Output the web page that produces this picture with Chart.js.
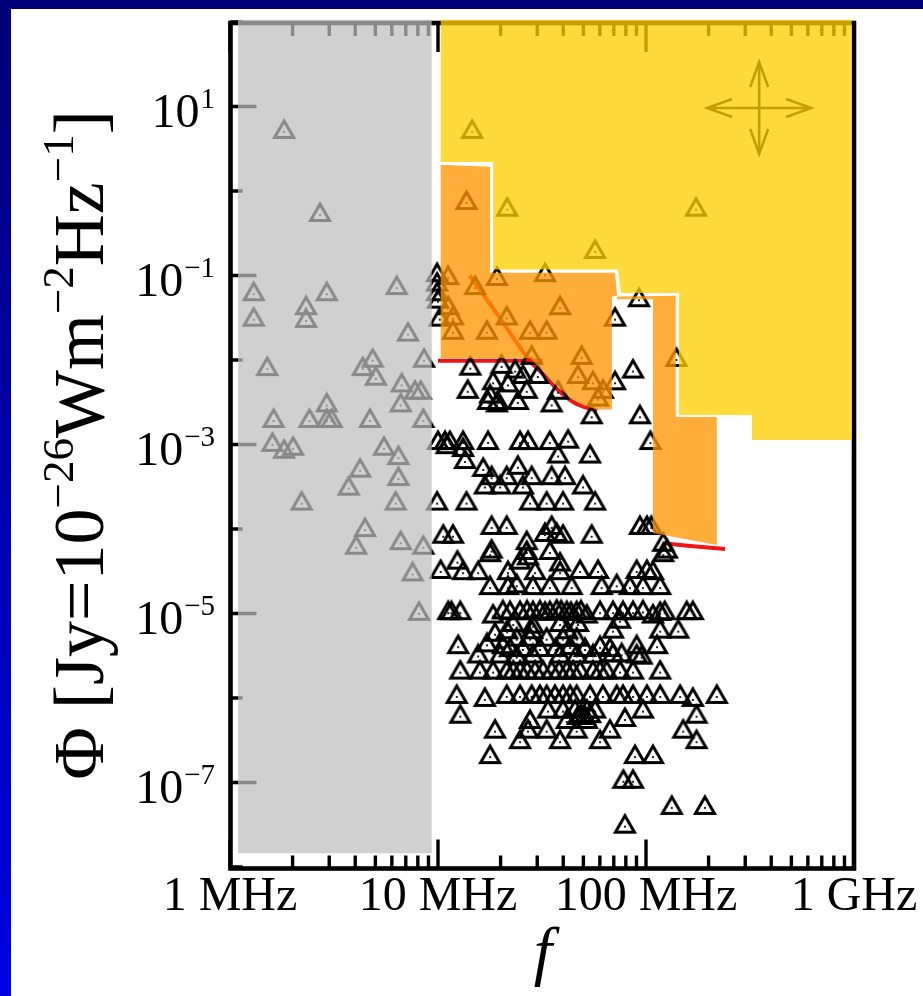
<!DOCTYPE html>
<html>
<head>
<meta charset="utf-8">
<script src="https://cdn.jsdelivr.net/npm/chart.js@4.4.0/dist/chart.umd.min.js"></script>
<style>
html, body { margin: 0; padding: 0; background: #fff; }
canvas { display: block; }
</style>
</head>
<body>
<canvas id="mycanvas" width="923" height="996"></canvas>
<script>
// events below 10 MHz (behind the ionosphere band), [MHz, Jy]
var ionoEvents = [
	[1.82,5.0],[2.71,0.52],[1.30,0.060],[2.92,0.060],[6.33,0.071],[2.32,0.041],
	[1.30,0.030],[2.32,0.029],[7.17,0.020],[1.51,0.0078],[4.35,0.0078],[4.85,0.0098],
	[5.03,0.0060],[8.57,0.0098],[6.69,0.0050],[7.75,0.0041],[8.26,0.0041],[6.62,0.0029],
	[2.92,0.0029],[1.62,0.0019],[2.41,0.0019],[2.92,0.0019],[3.08,0.0019],[4.71,0.0019],
	[8.50,0.0019],[1.60,0.00099],[1.82,0.00082],[2.01,0.00089],[5.50,0.00089],[6.45,0.00069],
	[4.22,0.00049],[6.45,0.00039],[3.72,0.00030],[2.21,0.00020],[6.26,0.00020],[4.46,9.7e-5],
	[4.04,6.0e-5],[6.62,6.8e-5],[8.50,6.0e-5],[7.55,2.9e-5],[8.10,9.9e-6]
];

// events above 1e-3 Jy
var upperEvents = [
	[14.6,5.0],[13.7,0.72],[21.5,0.60],[56.9,0.19],[174,0.60],
	[9.9,0.101],[9.9,0.078],[11.2,0.093],[15.1,0.071],[19.2,0.091],[32.7,0.101],
	[9.9,0.060],[10.0,0.049],[11.2,0.041],[11.8,0.031],[10.2,0.030],
	[11.8,0.021],[17.2,0.021],[21.4,0.031],[27.7,0.021],[33.3,0.021],
	[38.6,0.041],[71.0,0.030],[92.5,0.051],[28.2,0.0106],[49.1,0.0106],
	[140,0.0100],[47.1,0.0063],[55.6,0.0053],[62.1,0.0042],[58.8,0.0034],
	[14.3,0.0079],[20.2,0.0083],[23.5,0.0073],[25.6,0.0063],[30.2,0.0063],
	[18.4,0.0053],[21.7,0.0050],[13.9,0.0042],[26.7,0.0042],[17.8,0.0037],
	[19.4,0.0031],[24.2,0.0031],[17.4,0.0031],[35.2,0.0029],[37.8,0.0041],
	[71.0,0.0053],[86.6,0.0073],[54.8,0.0021],[93.5,0.0021],[19.2,0.0029],
	[10.0,0.00104],[10.8,0.00104],[11.4,0.00104],[13.2,0.00104],[17.4,0.00104],
	[24.8,0.00104],[27.1,0.00104],[34.5,0.00104],[42.2,0.00108],[105,0.00104]
];

// events below 1e-3 Jy
var lowerEvents = [
	[13.2,0.00086],[11.0,0.00093],[37.8,0.00072],[53.8,0.00072],[13.5,0.00062],[16.5,0.00050],
	[24.2,0.00053],[18.1,0.00040],[21.4,0.00040],[28.2,0.00040],[35.2,0.00040],
	[40.8,0.00040],[49.8,0.00031],[16.8,0.00031],[19.9,0.00031],[25.6,0.00031],
	[9.9,0.00020],[13.7,0.00020],[27.7,0.00020],[33.3,0.00020],[39.9,0.00020],[56.9,0.00020],
	[18.1,1.03e-4],[21.4,1.03e-4],[35.2,1.03e-4],[37.2,8.5e-5],[32.7,8.5e-5],
	[26.7,6.8e-5],[54.8,8.1e-5],[10.6,8.1e-5],[11.8,8.1e-5],[39.9,8.1e-5],
	[93.5,1.03e-4],[101,1.03e-4],[106,1.03e-4],[121,6.5e-5],[126,5.4e-5],
	[18.1,5.4e-5],[26.7,5.2e-5],[34.5,5.2e-5],
	[12.4,4.0e-5],[17.8,4.9e-5],[24.8,4.0e-5],[27.1,4.5e-5],[38.6,3.8e-5],[121,4.9e-5],
	[10.3,3.1e-5],[13.2,3.0e-5],[15.6,3.0e-5],[21.7,3.0e-5],[29.3,3.0e-5],[38.6,3.0e-5],
	[48.2,3.1e-5],[58.8,3.1e-5],[90.2,3.1e-5],[101,3.1e-5],[108,3.0e-5],
	[17.8,2.0e-5],[21.7,2.0e-5],[23.9,2.1e-5],[28.6,2.0e-5],[34.5,2.0e-5],[43.9,2.0e-5],
	[61.2,2.0e-5],[72.3,2.1e-5],[83.7,2.0e-5],[96.7,2.0e-5],[117,2.0e-5],
	[11.2,1.01e-5],[11.6,1.01e-5],[12.8,1.01e-5],[18.4,9.2e-6],[20.5,1.03e-5],[22.2,1.01e-5],
	[24.8,1.01e-5],[26.8,1.03e-5],[28.6,1.01e-5],[30.9,1.03e-5],[32.7,9.9e-6],[34.5,1.01e-5],
	[37.2,1.05e-5],[39.1,1.03e-5],[41.6,1.01e-5],[43.6,9.9e-6],[46.4,1.01e-5],[48.7,1.03e-5],
	[51.9,9.2e-6],[60.1,1.01e-5],[69.4,1.01e-5],[77.5,1.01e-5],[86.6,1.01e-5],[96.7,1.03e-5],
	[108,9.2e-6],[117,9.9e-6],[123,1.01e-5],[157,1.01e-5],[168,1.01e-5],
	[23.0,7.3e-6],[28.6,7.0e-6],[38.6,7.3e-6],[47.1,7.3e-6],[69.4,6.1e-6],[117,6.1e-6],
	[143,6.1e-6],[75.0,8.0e-6],[21.5,6.0e-6],[28.3,6.0e-6],[41.8,6.0e-6],
	[18.8,5.6e-6],[23.9,4.9e-6],[27.7,4.9e-6],[33.3,4.9e-6],[39.9,4.9e-6],[46.4,4.9e-6],
	[12.5,4.0e-6],[17.2,4.2e-6],[20.5,4.0e-6],[90.2,4.0e-6],[113,4.0e-6],
	[22.2,3.7e-6],[25.6,3.7e-6],[30.9,3.7e-6],[36.8,3.7e-6],[43.2,3.9e-6],[50.9,3.7e-6],
	[60.1,3.9e-6],[67.1,3.7e-6],
	[15.6,3.1e-6],[19.9,3.1e-6],[23.9,3.0e-6],[28.6,3.1e-6],[38.6,3.1e-6],[46.4,3.1e-6],
	[55.6,3.1e-6],[69.4,3.2e-6],[76.4,3.2e-6],[90.2,3.1e-6],[95.3,3.0e-6],
	[12.8,2.0e-6],[15.9,2.0e-6],[18.4,2.0e-6],[21.4,2.0e-6],[23.0,2.0e-6],[24.8,2.0e-6],
	[26.8,2.0e-6],[29.3,2.0e-6],[32.0,2.0e-6],[35.2,2.0e-6],[38.2,2.0e-6],[41.6,2.0e-6],
	[44.6,2.0e-6],[48.2,2.0e-6],[55.6,2.0e-6],[60.1,2.0e-6],[64.7,2.0e-6],[75.0,2.0e-6],
	[86.6,2.0e-6],[117,2.0e-6],
	[12.3,1.03e-6],[16.8,9.5e-7],[21.4,1.03e-6],[24.8,1.03e-6],[28.2,1.03e-6],[30.9,1.03e-6],
	[33.3,1.03e-6],[36.5,1.03e-6],[39.9,1.03e-6],[43.2,1.03e-6],[46.4,1.03e-6],[53.8,1.03e-6],
	[62.1,1.03e-6],[72.3,1.03e-6],[77.5,1.03e-6],[86.6,1.03e-6],[101,1.03e-6],[117,1.03e-6],
	[146,1.03e-6],[168,9.5e-7],[219,1.03e-6],
	[12.8,6.0e-7],[33.8,6.9e-7],[39.9,6.9e-7],[45.6,6.9e-7],[51.9,6.9e-7],[56.9,6.9e-7],
	[96.7,6.9e-7],[175,6.0e-7],[27.7,5.2e-7],[41.6,5.2e-7],[51.9,5.2e-7],[79.2,5.5e-7],
	[48.7,6.1e-7],[50.9,5.8e-7],[53.8,6.1e-7],[47.1,5.8e-7],
	[18.8,4.0e-7],[27.1,4.0e-7],[33.3,4.0e-7],[46.4,4.0e-7],[67.1,4.0e-7],[151,4.0e-7],
	[24.8,3.0e-7],[38.6,3.0e-7],[60.1,3.0e-7],[175,3.0e-7],
	[17.8,2.0e-7],[88.5,2.0e-7],[108,2.0e-7],[77.8,1.02e-7],[86.6,1.02e-7],
	[133,5.0e-8],[192,5.0e-8],[79.2,3.0e-8]
];

// sensitivity curves (red)
var limitLineA = [[10,0.0098],[32,0.0098]];
var limitLineB = [[14.2,0.1],[20,0.0306],[27.7,0.0097],[32,0.0068],[37.3,0.00454],[44.6,0.00319],[58.1,0.00249]];
var limitLineC = [[121,6.8e-5],[163,6.3e-5],[240,5.8e-5]];

// shaded zones, polygon corners in [MHz, Jy]
var ionoBand = [[1.093,106],[9.33,106],[9.33,1.45e-8],[1.093,1.45e-8]];
var yellowZone = [[10.3,106],[975,106],[975,0.00113],[323,0.00113],[323,0.00223],[144,0.00223],
	[144,0.062],[75.8,0.062],[73.3,0.118],[18.4,0.118],[18.4,2.2],[10.3,2.2]];
var orangeZoneA = [[10.3,2.05],[17.8,1.94],[17.8,0.108],[71.0,0.108],[72.6,0.058],[68.6,0.056],
	[68.6,0.0026],[58.1,0.0026],[50,0.0029],[44.6,0.0034],[37.3,0.0049],[32,0.0074],[27.7,0.0105],[10.3,0.0105]];
var orangeZoneB = [[72.6,0.0565],[139,0.0575],[139,0.00211],[219,0.00211],[219,6.47e-5],[108,8.97e-5],
	[108,0.0525],[72.6,0.0525]];

var xTickValues = [1, 10, 100, 1000];
var xTickLabels = ['1 MHz', '10 MHz', '100 MHz', '1 GHz'];
var yLabelExps = [1, -1, -3, -5, -7];
var arrowCenter = [350, 9.6];

function toPts(list) {
	return list.map(function(p){ return {x: p[0], y: p[1]}; });
}

// triangle marker with a dot in the middle
function makeMarker() {
	var c = document.createElement('canvas');
	c.width = 28; c.height = 28;
	var g = c.getContext('2d');
	var cx = 14, cy = 14, w = 19, h = 16.5;
	g.strokeStyle = '#000';
	g.lineWidth = 3.0;
	g.beginPath();
	g.moveTo(cx, cy - h * 2 / 3);
	g.lineTo(cx + w / 2, cy + h / 3);
	g.lineTo(cx - w / 2, cy + h / 3);
	g.closePath();
	g.stroke();
	g.fillStyle = '#222';
	g.fillRect(cx - 1, cy - 1, 2, 2);
	return c;
}
var marker = makeMarker();

var SERIF = '"Liberation Serif", "Times New Roman", serif';

var decor = {
	id: 'decor',
	beforeDraw: function(chart) {
		var ctx = chart.ctx, w = chart.width, h = chart.height;
		ctx.save();
		ctx.fillStyle = '#fff';
		ctx.fillRect(0, 0, w, h);
		var grad = ctx.createLinearGradient(0, 0, 0, h);
		grad.addColorStop(0, '#000078');
		grad.addColorStop(1, '#0000e4');
		ctx.fillStyle = grad;
		ctx.fillRect(0, 0, 11, h);
		ctx.fillStyle = '#00007c';
		ctx.fillRect(0, 0, w, 9);
		ctx.restore();
	},
	beforeDatasetsDraw: function(chart) {
		var ctx = chart.ctx, ca = chart.chartArea;
		var xs = chart.scales.x, ys = chart.scales.y;
		var top = ca.top + 1, bottom = ca.bottom + 1.5, left = ca.left + 0.5, right = ca.right;
		ctx.save();
		ctx.strokeStyle = '#000';
		ctx.lineWidth = 3.4;
		ctx.beginPath();
		for (var d = 1; d <= 1000; d *= 10) {
			for (var m = 1; m <= 9; m++) {
				var v = d * m;
				if (v > 1000) break;
				var px = xs.getPixelForValue(v);
				var len = m === 1 ? 29 : 13;
				ctx.moveTo(px, bottom); ctx.lineTo(px, bottom - len);
				ctx.moveTo(px, top); ctx.lineTo(px, top + len);
			}
		}
		for (var e = -8; e <= 2; e++) {
			var py = ys.getPixelForValue(Math.pow(10, e));
			var l = (Math.abs(e) % 2 === 1) ? 26 : 12;
			ctx.moveTo(left, py); ctx.lineTo(left + l, py);
		}
		ctx.stroke();
		ctx.lineWidth = 4.6;
		ctx.strokeRect(left, top, right - left, bottom - top);
		ctx.restore();
	},
	afterDatasetsDraw: function(chart) {
		var ctx = chart.ctx;
		var xs = chart.scales.x, ys = chart.scales.y;
		function P(p) { return [xs.getPixelForValue(p[0]), ys.getPixelForValue(p[1])]; }
		function poly(pts, color) {
			ctx.beginPath();
			pts.forEach(function(p, i) {
				var q = P(p);
				if (i) ctx.lineTo(q[0], q[1]); else ctx.moveTo(q[0], q[1]);
			});
			ctx.closePath();
			ctx.fillStyle = color;
			ctx.fill();
		}
		ctx.save();
		// four-way arrow, sits under the yellow zone
		var c = P(arrowCenter);
		ctx.strokeStyle = '#000';
		ctx.lineWidth = 2.6;
		ctx.beginPath();
		ctx.moveTo(c[0] - 52, c[1]); ctx.lineTo(c[0] + 52, c[1]);
		ctx.moveTo(c[0], c[1] - 46); ctx.lineTo(c[0], c[1] + 46);
		ctx.moveTo(c[0] - 27, c[1] - 9); ctx.lineTo(c[0] - 52, c[1]); ctx.lineTo(c[0] - 27, c[1] + 9);
		ctx.moveTo(c[0] + 27, c[1] - 9); ctx.lineTo(c[0] + 52, c[1]); ctx.lineTo(c[0] + 27, c[1] + 9);
		ctx.moveTo(c[0] - 9, c[1] - 21); ctx.lineTo(c[0], c[1] - 46); ctx.lineTo(c[0] + 9, c[1] - 21);
		ctx.moveTo(c[0] - 9, c[1] + 21); ctx.lineTo(c[0], c[1] + 46); ctx.lineTo(c[0] + 9, c[1] + 21);
		ctx.stroke();

		poly(ionoBand, 'rgba(190,190,190,0.72)');
		poly(yellowZone, 'rgba(255,207,0,0.77)');
		poly(orangeZoneA, 'rgba(255,150,0,0.77)');
		poly(orangeZoneB, 'rgba(255,150,0,0.77)');
		ctx.restore();
	},
	afterDraw: function(chart) {
		var ctx = chart.ctx;
		var xs = chart.scales.x, ys = chart.scales.y;
		ctx.save();
		ctx.fillStyle = '#000';
		ctx.textBaseline = 'alphabetic';

		// x tick labels
		ctx.font = '48px ' + SERIF;
		ctx.textAlign = 'center';
		xTickValues.forEach(function(v, i) {
			ctx.fillText(xTickLabels[i], xs.getPixelForValue(v), 910);
		});

		// y tick labels 10^n
		yLabelExps.forEach(function(e) {
			var py = ys.getPixelForValue(Math.pow(10, e));
			var sup = (e < 0 ? '\u2212' : '') + Math.abs(e);
			ctx.font = '29px ' + SERIF;
			var ws = ctx.measureText(sup).width;
			ctx.font = '48px ' + SERIF;
			var wb = ctx.measureText('10').width;
			var x0 = 214 - ws - wb;
			ctx.textAlign = 'left';
			ctx.fillText('10', x0, py + 20);
			ctx.font = '29px ' + SERIF;
			ctx.fillText(sup, x0 + wb + 1, py + 1);
		});

		// x title
		ctx.font = 'italic 66px ' + SERIF;
		ctx.textAlign = 'center';
		ctx.fillText('f', 543, 973);

		// y title, rotated
		var parts = [
			['\u03A6 [Jy=10', 0], ['\u221226', 1], ['Wm', 0], ['\u22122', 1],
			['Hz', 0], ['\u22121', 1], [']', 0]
		];
		var baseFont = '72px ' + SERIF, supFont = '45px ' + SERIF;
		var total = 0;
		parts.forEach(function(p) {
			ctx.font = p[1] ? supFont : baseFont;
			p.push(ctx.measureText(p[0]).width);
			total += p[2];
		});
		ctx.translate(103, 445);
		ctx.rotate(-Math.PI / 2);
		ctx.textAlign = 'left';
		var x = -total / 2;
		parts.forEach(function(p) {
			ctx.font = p[1] ? supFont : baseFont;
			ctx.fillText(p[0], x, p[1] ? -30 : 0);
			x += p[2];
		});
		ctx.restore();
	}
};

var markerSet = {
	pointStyle: marker,
	pointRadius: 4,
	showLine: false
};

var ctx = document.getElementById('mycanvas');
var chart = new Chart(ctx, {
	type: 'scatter',
	data: {
		datasets: [
			Object.assign({label: 'below 10 MHz', data: toPts(ionoEvents)}, markerSet),
			Object.assign({label: 'upper', data: toPts(upperEvents)}, markerSet),
			Object.assign({label: 'lower', data: toPts(lowerEvents)}, markerSet),
			{label: 'limit A', data: toPts(limitLineA), showLine: true, borderColor: '#f01414', borderWidth: 4, pointRadius: 0},
			{label: 'limit B', data: toPts(limitLineB), showLine: true, borderColor: '#f01414', borderWidth: 4, pointRadius: 0, cubicInterpolationMode: 'monotone'},
			{label: 'limit C', data: toPts(limitLineC), showLine: true, borderColor: '#f01414', borderWidth: 4, pointRadius: 0}
		]
	},
	options: {
		responsive: false,
		animation: false,
		events: [],
		devicePixelRatio: 1,
		layout: {padding: {left: 230, right: 69, top: 22, bottom: 129}},
		plugins: {legend: {display: false}, tooltip: {enabled: false}},
		scales: {
			x: {type: 'logarithmic', min: 1, max: 1000, display: false},
			y: {type: 'logarithmic', min: 1e-8, max: 100, display: false}
		}
	},
	plugins: [decor]
});
</script>
</body>
</html>
